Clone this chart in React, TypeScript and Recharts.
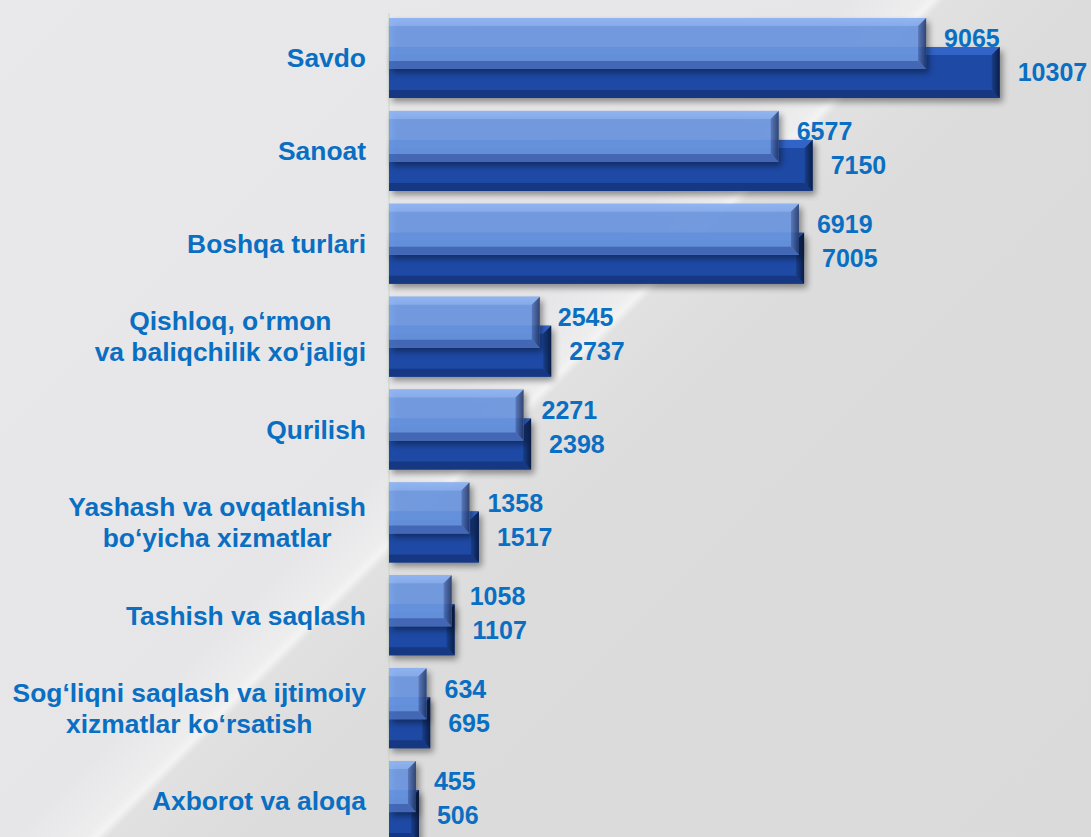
import React from 'react';
import { BarChart, Bar, XAxis, YAxis, CartesianGrid, LabelList } from 'recharts';

const categories = [
  'Savdo',
  'Sanoat',
  'Boshqa turlari',
  'Qishloq, o‘rmon\nva baliqchilik xo‘jaligi',
  'Qurilish',
  'Yashash va ovqatlanish\nbo‘yicha xizmatlar',
  'Tashish va saqlash',
  'Sog‘liqni saqlash va ijtimoiy\nxizmatlar ko‘rsatish',
  'Axborot va aloqa',
];
const prevValues = [9065, 6577, 6919, 2545, 2271, 1358, 1058, 634, 455];
const currValues = [10307, 7150, 7005, 2737, 2398, 1517, 1107, 695, 506];
const xTicks = [0, 2000, 4000, 6000, 8000, 10000, 12000];

const data = categories.map((name, i) => ({ name, prev: prevValues[i], curr: currValues[i] }));

const FONT = '"Liberation Sans", Arial, sans-serif';
const BLUE_TEXT = '#0a6fc2';
const LABEL_SIZE = 26.4;
const LINE_GAP = 31;
const PAIR_SHIFT = 29; // vertical offset of the second bar inside a category

let ctx: CanvasRenderingContext2D | null = null;
const textWidth = (s: string) => {
  if (!ctx) ctx = document.createElement('canvas').getContext('2d');
  ctx!.font = `bold ${LABEL_SIZE}px "Liberation Sans"`;
  return ctx!.measureText(s).width;
};

const CategoryTick = ({ x, y, payload }: any) => {
  const lines = String(payload.value).split('\n');
  const maxW = Math.max(...lines.map(textWidth));
  const cx = x - maxW / 2;
  const cy = y + PAIR_SHIFT / 2;
  return (
    <text fill={BLUE_TEXT} fontSize={LABEL_SIZE} fontWeight="bold" fontFamily={FONT} textAnchor="middle">
      {lines.map((l, i) => (
        <tspan key={i} x={cx} y={cy + (i - (lines.length - 1) / 2) * LINE_GAP} dy="0.35em">
          {l}
        </tspan>
      ))}
    </text>
  );
};

const palettes: any = {
  light: { face: '#6f9ce9', top: '#86aff4', bottom: '#4a70c0', side: 'url(#sideLight)', opacity: 0.88 },
  dark: { face: '#1e4aa6', top: '#3264c8', bottom: '#163883', side: 'url(#sideDark)', opacity: 1 },
};

const BevelBar = (props: any) => {
  const { x, y, width, height, tone } = props;
  if (!width || width <= 0) return null;
  const c = palettes[tone];
  const b = 8;
  const r = x + width;
  const btm = y + height;
  return (
    <g>
      <rect x={x + 3} y={y + 4} width={width} height={height} fill="#000" opacity={0.4} filter="url(#barShadow)" />
      <g opacity={c.opacity}>
        <rect x={x} y={y} width={width} height={height} fill={c.face} />
        <polygon points={`${x},${y} ${r},${y} ${r - b},${y + b} ${x},${y + b}`} fill={c.top} />
        <polygon points={`${x},${btm} ${r},${btm} ${r - b},${btm - b} ${x},${btm - b}`} fill={c.bottom} />
        <polygon points={`${r},${y} ${r},${btm} ${r - b},${btm - b} ${r - b},${y + b}`} fill={c.side} />
      </g>
    </g>
  );
};

const valueLabel = { fill: BLUE_TEXT, fontSize: 25, fontWeight: 'bold', fontFamily: FONT } as any;

export default function App() {
  return (
    <div
      style={{
        position: 'absolute',
        left: 0,
        top: 0,
        width: 1091,
        height: 837,
        overflow: 'hidden',
        background:
          'linear-gradient(135deg, #e9e9eb 0%, #e6e6e8 44%, #ededee 47.8%, #f3f3f3 48.4%, #e1e1e1 49%, #dcdcdc 56%, #dadada 100%)',
      }}
    >
      <div style={{ position: 'absolute', left: 0, top: -3 }}>
        <BarChart
          width={1100}
          height={865}
          data={data}
          layout="vertical"
          margin={{ top: 0, right: 0, bottom: 0, left: 0 }}
        >
          <defs>
            <filter id="barShadow" x="-10%" y="-40%" width="130%" height="200%">
              <feGaussianBlur stdDeviation="3" />
            </filter>
            <linearGradient id="sideLight" x1="0" y1="0" x2="1" y2="0">
              <stop offset="0%" stopColor="#5378c4" />
              <stop offset="100%" stopColor="#243a6c" />
            </linearGradient>
            <linearGradient id="sideDark" x1="0" y1="0" x2="1" y2="0">
              <stop offset="0%" stopColor="#183f8c" />
              <stop offset="100%" stopColor="#0b1d46" />
            </linearGradient>
          </defs>
          <CartesianGrid horizontal={false} stroke="#c4d8c4" y={16} height={900} />
          <XAxis
            type="number"
            domain={[0, 12000]}
            ticks={xTicks}
            axisLine={false}
            tickLine={false}
            tick={false}
            height={0}
          />
          <YAxis
            yAxisId="prev"
            type="category"
            dataKey="name"
            width={389}
            axisLine={false}
            tickLine={false}
            tickSize={0}
            tickMargin={23}
            interval={0}
            padding={{ top: 0, bottom: PAIR_SHIFT }}
            tick={<CategoryTick />}
          />
          <YAxis
            yAxisId="curr"
            type="category"
            dataKey="name"
            hide
            width={0}
            padding={{ top: PAIR_SHIFT, bottom: 0 }}
          />
          <Bar
            yAxisId="curr"
            dataKey="curr"
            barSize={51}
            isAnimationActive={false}
            shape={(p: any) => <BevelBar {...p} tone="dark" />}
          >
            <LabelList dataKey="curr" position="right" offset={18} {...valueLabel} />
          </Bar>
          <Bar
            yAxisId="prev"
            dataKey="prev"
            barSize={51}
            isAnimationActive={false}
            shape={(p: any) => <BevelBar {...p} tone="light" />}
          >
            <LabelList dataKey="prev" position="right" offset={18} dy={-5} {...valueLabel} />
          </Bar>
        </BarChart>
      </div>
    </div>
  );
}
